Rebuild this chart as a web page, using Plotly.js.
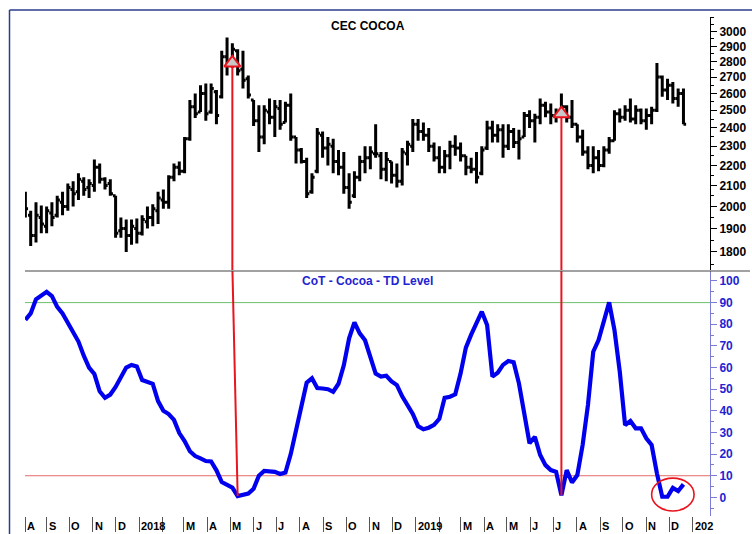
<!DOCTYPE html>
<html>
<head>
<meta charset="utf-8">
<script src="https://cdn.plot.ly/plotly-3.0.1.min.js"></script>
<style>
  html, body { margin: 0; padding: 0; background: #fff; }
  #chart { width: 752px; height: 534px; }
</style>
</head>
<body>
<div id="chart"></div>
<script>
// ---------------- DATA ----------------
const dates = [
 '2017-08-04','2017-08-11','2017-08-18','2017-08-25','2017-09-01','2017-09-08','2017-09-15','2017-09-22','2017-09-29',
 '2017-10-06','2017-10-13','2017-10-20','2017-10-27','2017-11-03','2017-11-10','2017-11-17','2017-11-24',
 '2017-12-01','2017-12-08','2017-12-15','2017-12-22','2017-12-29',
 '2018-01-05','2018-01-12','2018-01-19','2018-01-26','2018-02-02','2018-02-09','2018-02-16','2018-02-23',
 '2018-03-02','2018-03-09','2018-03-16','2018-03-23','2018-03-30','2018-04-06','2018-04-13','2018-04-20','2018-04-27',
 '2018-05-04','2018-05-11','2018-05-18','2018-05-25','2018-06-01','2018-06-08','2018-06-15','2018-06-22','2018-06-29',
 '2018-07-06','2018-07-13','2018-07-20','2018-07-27','2018-08-03','2018-08-10','2018-08-17','2018-08-24','2018-08-31',
 '2018-09-07','2018-09-14','2018-09-21','2018-09-28','2018-10-05','2018-10-12','2018-10-19','2018-10-26',
 '2018-11-02','2018-11-09','2018-11-16','2018-11-23','2018-11-30','2018-12-07','2018-12-14','2018-12-21','2018-12-28',
 '2019-01-04','2019-01-11','2019-01-18','2019-01-25','2019-02-01','2019-02-08','2019-02-15','2019-02-22',
 '2019-03-01','2019-03-08','2019-03-15','2019-03-22','2019-03-29','2019-04-05','2019-04-12','2019-04-19','2019-04-26',
 '2019-05-03','2019-05-10','2019-05-17','2019-05-24','2019-05-31','2019-06-07','2019-06-14','2019-06-21','2019-06-28',
 '2019-07-05','2019-07-12','2019-07-19','2019-07-26','2019-08-02','2019-08-09','2019-08-16','2019-08-23','2019-08-30',
 '2019-09-06','2019-09-13','2019-09-20','2019-09-27','2019-10-04','2019-10-11','2019-10-18','2019-10-25',
 '2019-11-01','2019-11-08','2019-11-15','2019-11-22','2019-11-29','2019-12-06','2019-12-13','2019-12-20'
];

const priceHigh = [
 2070,1980,2020,2005,2000,2020,2050,2070,2110,2120,2160,2140,2130,2230,2210,2140,2130,2050,1950,1940,
 1940,1945,1960,2000,2010,2070,2080,2150,2210,2220,2350,2560,2600,2650,2660,2660,2620,2870,2960,2920,
 2880,2870,2710,2560,2530,2530,2570,2560,2560,2550,2600,2350,2290,2240,2160,2400,2380,2350,2340,2280,
 2270,2160,2170,2250,2300,2300,2420,2270,2270,2220,2210,2290,2330,2450,2450,2430,2400,2320,2300,2280,
 2330,2360,2320,2250,2240,2270,2300,2440,2440,2420,2420,2420,2400,2390,2490,2500,2480,2570,2550,2540,
 2510,2600,2530,2560,2420,2390,2300,2300,2280,2300,2350,2500,2510,2530,2570,2530,2510,2510,2520,2790,
 2710,2690,2670,2630,2630
];
const priceLow = [
 1950,1825,1840,1880,1880,1910,1950,1960,1980,2000,2030,2050,2040,2070,2110,2080,2050,1860,1860,1800,
 1830,1835,1870,1900,1910,1920,1990,1990,2120,2150,2160,2330,2455,2490,2440,2480,2420,2570,2710,2760,
 2710,2630,2570,2410,2270,2310,2420,2350,2390,2430,2330,2210,2210,2040,2060,2160,2240,2200,2160,2150,
 2060,1990,2040,2120,2160,2180,2240,2130,2120,2110,2090,2100,2200,2270,2330,2330,2270,2220,2160,2160,
 2180,2250,2220,2150,2160,2110,2150,2280,2320,2320,2240,2280,2290,2230,2350,2400,2320,2420,2460,2420,
 2430,2480,2430,2400,2320,2250,2180,2160,2170,2190,2260,2330,2430,2440,2430,2420,2420,2390,2420,2490,
 2580,2560,2540,2520,2420
];
const priceOpen = [
 2000,1960,1870,1950,1910,1970,1960,2020,2000,2080,2070,2120,2090,2100,2190,2130,2110,2050,1890,1900,
 1870,1900,1880,1930,1950,1980,2030,2020,2140,2190,2170,2340,2520,2490,2600,2490,2610,2580,2830,2790,
 2870,2750,2690,2560,2440,2350,2490,2460,2510,2430,2530,2350,2280,2220,2070,2170,2360,2290,2300,2220,
 2190,2090,2050,2140,2220,2240,2260,2250,2180,2220,2150,2120,2260,2300,2420,2380,2360,2300,2240,2190,
 2250,2300,2290,2250,2190,2180,2160,2290,2400,2360,2390,2300,2380,2320,2350,2470,2440,2460,2530,2490,
 2470,2480,2520,2460,2420,2350,2270,2200,2240,2200,2280,2330,2480,2460,2500,2450,2500,2440,2470,2500,
 2700,2620,2650,2570,2600
];
const priceClose = [
 1990,1870,1960,1920,1980,1950,2030,2000,2090,2060,2130,2080,2110,2190,2130,2100,2060,1880,1900,1870,
 1910,1880,1940,1950,1990,2040,2020,2140,2190,2170,2340,2520,2480,2600,2480,2630,2470,2830,2790,2880,
 2740,2680,2590,2440,2350,2500,2460,2520,2420,2530,2350,2280,2220,2060,2140,2370,2290,2310,2220,2190,
 2090,2020,2140,2220,2240,2270,2260,2180,2230,2150,2120,2270,2310,2420,2380,2360,2300,2240,2190,2250,
 2300,2290,2250,2190,2180,2140,2280,2400,2360,2390,2300,2380,2320,2340,2470,2440,2460,2530,2490,2470,
 2480,2520,2460,2420,2350,2270,2200,2240,2200,2280,2330,2480,2460,2500,2450,2500,2440,2470,2500,2700,
 2620,2650,2570,2600,2420
];

const tdLevel = [
 82,85,91.5,93,95,93,88,85,80.5,76,72,65.5,60,57,49,46,47.5,51,56,60,
 61.2,60.5,54.2,53.2,52.5,44.5,40,38.5,35.8,29.7,26,21.3,19.1,18,16.8,16.6,12.5,7.1,5.8,4.5,
 0.6,1,1.8,4,10,12.2,12,11.8,10.8,11.5,20,30.5,41,53,55,50.5,50.3,50,48.8,52.5,
 61,73.5,80.9,75.8,72.6,65,57.2,55.8,56.2,53.6,51.9,46.7,43,38.6,32.9,31.5,32.2,33.5,36.3,46,
 46.5,47.6,57.2,69.2,75.2,81,85.8,79.7,55.8,57.6,61.2,63,62.4,52.7,38,25,28,19.6,14.9,12.6,
 11.8,1,12.6,6.9,10.3,24.2,42.7,67.3,72.7,81.2,90.1,77.3,58,33.4,35.3,31.9,31.9,27.3,24.2,11.1,
 0.3,0.3,4.4,2.9,6
];

// signals: bar index of the triangle, its price, index of the TD low it points to
const signalBarIdx = [39, 101];
const signalPrice = [2790, 2480];
const signalTdIdx = [40, 101];

// threshold levels of the TD indicator
const tdUpper = 90;
const tdLower = 10;

// highlighted zone (ellipse) at the end of the TD line
const circleDates = ['2019-11-08', '2020-01-03'];
const circleValues = [-6.3, 8.9];

// axis ticks
const priceTicks = [1800,1900,2000,2100,2200,2300,2400,2500,2600,2700,2800,2900,3000];
const priceMinorTicks = [1750,1850,1950,2050,2150,2250,2350,2450,2550,2650,2750,2850,2950,3050,3100];
const tdTicks = [0,10,20,30,40,50,60,70,80,90,100];
const tdMinorTicks = [-5,5,15,25,35,45,55,65,75,85,95];
const monthTicks = [
 '2017-08-04','2017-09-01','2017-10-01','2017-11-01','2017-12-01',
 '2018-01-01','2018-02-01','2018-03-01','2018-04-01','2018-05-01','2018-06-01','2018-07-01',
 '2018-08-01','2018-09-01','2018-10-01','2018-11-01','2018-12-01',
 '2019-01-01','2019-02-01','2019-03-01','2019-04-01','2019-05-01','2019-06-01','2019-07-01',
 '2019-08-01','2019-09-01','2019-10-01','2019-11-01','2019-12-01','2020-01-01'
];
const monthLabels = [
 'A','S','O','N','D',
 '2018','','M','A','M','J','J',
 'A','S','O','N','D',
 '2019','','M','A','M','J','J',
 'A','S','O','N','D','202'
];

// ---------------- LAYOUT GEOMETRY ----------------
const W = 752, H = 534;
const M = {l: 25, r: 42, t: 17, b: 18};
const plotW = W - M.l - M.r, plotH = H - M.t - M.b;
const pxX = px => (px - M.l) / plotW;
const pxY = py => (H - M.b - py) / plotH;

const topDomain = [pxY(270), 1];
const botDomain = [0, pxY(271)];
const priceRange = [1726, 3104];
const tdRange = [-8.6, 104.6];

const FONT = 'Liberation Sans, Arial, Helvetica, sans-serif';
const BLUE_TXT = '#2323d2';
const BLUE_AX = '#7b7bd8';

// ---------------- TRACES ----------------
const traces = [];

traces.push({
  type: 'ohlc', x: dates, open: priceOpen, high: priceHigh, low: priceLow, close: priceClose,
  xaxis: 'x', yaxis: 'y', tickwidth: 0.5,
  increasing: {line: {color: '#000', width: 3}},
  decreasing: {line: {color: '#000', width: 3}},
  hoverinfo: 'skip', showlegend: false
});

traces.push({
  type: 'scatter', mode: 'lines', x: dates, y: tdLevel, xaxis: 'x', yaxis: 'y2',
  line: {color: '#0000ee', width: 4.2}, hoverinfo: 'skip', showlegend: false
});

// red signal lines (top part and bottom part), clipped by each panel
signalBarIdx.forEach((bi, k) => {
  const ti = signalTdIdx[k];
  traces.push({
    type: 'scatter', mode: 'lines', xaxis: 'x', yaxis: 'y',
    x: [dates[bi], dates[bi]], y: [signalPrice[k], priceRange[0] * 0.98],
    line: {color: '#e8141e', width: 2}, hoverinfo: 'skip', showlegend: false
  });
  traces.push({
    type: 'scatter', mode: 'lines', xaxis: 'x', yaxis: 'y2',
    x: [dates[bi], dates[ti]], y: [tdRange[1] + 2, tdLevel[ti]],
    line: {color: '#e8141e', width: 2}, hoverinfo: 'skip', showlegend: false
  });
});

traces.push({
  type: 'scatter', mode: 'markers', xaxis: 'x', yaxis: 'y',
  x: signalBarIdx.map(i => dates[i]), y: signalPrice,
  marker: {symbol: 'triangle-up', size: 14, color: '#c9c9c9', line: {color: '#e8141e', width: 2}},
  hoverinfo: 'skip', showlegend: false, cliponaxis: false
});

// ---------------- LAYOUT ----------------
const annotations = [];
monthTicks.forEach((d, i) => {
  if (!monthLabels[i]) return;
  annotations.push({
    xref: 'x', yref: 'paper', x: d, y: 0, xanchor: 'left', yanchor: 'middle',
    xshift: 0, yshift: -10, showarrow: false, text: monthLabels[i],
    font: {family: FONT, size: 11, color: '#000', weight: 'bold'}
  });
});
annotations.push({
  xref: 'paper', yref: 'paper', x: 0.5, y: 1, yshift: -9, xanchor: 'center', yanchor: 'middle',
  showarrow: false, text: 'CEC COCOA', font: {family: FONT, size: 12, color: '#000', weight: 'bold'}
});
annotations.push({
  xref: 'paper', yref: 'paper', x: 0.5, y: botDomain[1], yshift: -10, xanchor: 'center', yanchor: 'middle',
  showarrow: false, text: 'CoT - Cocoa - TD Level', font: {family: FONT, size: 12, color: BLUE_TXT, weight: 'bold'}
});

const shapes = [
  // threshold lines
  {type: 'line', xref: 'paper', yref: 'y2', x0: 0, x1: 1, y0: tdUpper, y1: tdUpper,
   line: {color: '#6cbf6c', width: 1}, layer: 'below'},
  {type: 'line', xref: 'paper', yref: 'y2', x0: 0, x1: 1, y0: tdLower, y1: tdLower,
   line: {color: '#e26a6a', width: 1}, layer: 'below'},
  // panel separator
  {type: 'line', xref: 'paper', yref: 'paper', x0: 0, x1: pxX(750), y0: botDomain[1], y1: botDomain[1],
   line: {color: '#444', width: 1}},
  // outer frame (left and top)
  {type: 'line', xref: 'paper', yref: 'paper', x0: pxX(9.5), x1: pxX(9.5), y0: pxY(10), y1: pxY(540),
   line: {color: '#2a3d8f', width: 1.5}},
  {type: 'line', xref: 'paper', yref: 'paper', x0: pxX(9.5), x1: pxX(760), y0: pxY(10), y1: pxY(10),
   line: {color: '#2a3d8f', width: 1.5}},
  // highlight ellipse
  {type: 'circle', xref: 'x', yref: 'y2', x0: circleDates[0], x1: circleDates[1],
   y0: circleValues[0], y1: circleValues[1], line: {color: '#e8141e', width: 1.6}}
];

const layout = {
  width: W, height: H,
  margin: M,
  paper_bgcolor: '#fff', plot_bgcolor: '#fff',
  showlegend: false, hovermode: false,
  font: {family: FONT},
  xaxis: {
    type: 'date', range: ['2017-08-03 12:00', '2020-01-24'], anchor: 'y2', domain: [0, 1],
    showgrid: false, zeroline: false, showline: false,
    tickmode: 'array', tickvals: monthTicks, ticks: 'outside', ticklen: 15, tickwidth: 1, tickcolor: '#555',
    showticklabels: false, rangeslider: {visible: false}, fixedrange: true
  },
  yaxis: {
    type: 'log', domain: topDomain, anchor: 'x', side: 'right',
    range: [Math.log10(priceRange[0]), Math.log10(priceRange[1])],
    showgrid: false, zeroline: false, showline: true, linecolor: '#000', linewidth: 1,
    tickmode: 'array', tickvals: priceTicks, ticktext: priceTicks.map(String),
    ticks: 'outside', ticklen: 6, tickcolor: '#000', tickwidth: 1,
    minor: {tickmode: 'array', tickvals: priceMinorTicks, ticks: 'outside', ticklen: 3, tickcolor: '#000', showgrid: false},
    tickfont: {family: FONT, size: 12, color: '#000', weight: 'bold'}, fixedrange: true
  },
  yaxis2: {
    domain: botDomain, anchor: 'x', side: 'right', range: tdRange,
    showgrid: false, zeroline: false, showline: true, linecolor: BLUE_AX, linewidth: 1,
    tickmode: 'array', tickvals: tdTicks, ticks: 'outside', ticklen: 6, tickcolor: BLUE_AX, tickwidth: 1,
    minor: {tickmode: 'array', tickvals: tdMinorTicks, ticks: 'outside', ticklen: 3, tickcolor: BLUE_AX, showgrid: false},
    tickfont: {family: FONT, size: 12, color: BLUE_TXT, weight: 'bold'}, fixedrange: true
  },
  annotations: annotations,
  shapes: shapes
};

Plotly.newPlot('chart', traces, layout, {staticPlot: true, displayModeBar: false});
</script>
</body>
</html>
